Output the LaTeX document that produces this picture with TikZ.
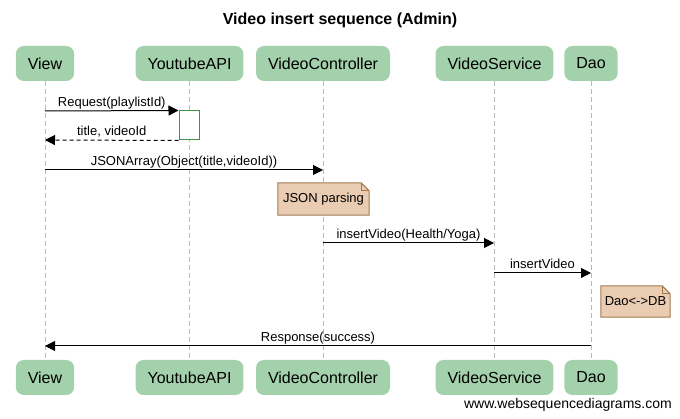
\documentclass[tikz,border=0pt]{standalone}
\usepackage{fontspec}
\setmainfont{Liberation Sans}
\usetikzlibrary{arrows.meta,backgrounds}
\definecolor{part}{RGB}{163,209,171}
\definecolor{notefill}{RGB}{233,204,177}
\definecolor{notedraw}{RGB}{160,122,80}
\definecolor{actdraw}{RGB}{60,150,70}
\definecolor{life}{RGB}{185,185,185}
\tikzset{
  participant/.style={fill=part, rounded corners=8pt, minimum height=35pt, inner xsep=12pt, inner ysep=0pt, font=\fontsize{16}{19}\selectfont, text=black},
  msg/.style={draw=black, line width=1pt, -{Triangle[length=10pt,width=10pt]}},
  reply/.style={msg, dash pattern=on 4pt off 3pt},
  lbl/.style={font=\fontsize{13}{15}\selectfont, anchor=south, inner sep=1pt, text height=10pt, text depth=3pt},
  lifeline/.style={draw=life, dash pattern=on 5pt off 3pt, line width=1pt},
  notebox/.style={font=\fontsize{13}{15}\selectfont, inner sep=0pt},
  notepath/.style={fill=notefill, draw=notedraw, line width=1pt},
  actbox/.style={draw=actdraw, fill=white, line width=1pt, minimum width=20pt, minimum height=29pt, inner sep=0pt}
}
\begin{document}
\begin{tikzpicture}[x=1pt,y=-1pt]
\useasboundingbox (0,0) rectangle (680,419);
% title
\node[font=\bfseries\fontsize{16}{19}\selectfont] (title) at (340,20) {Video insert sequence (Admin)};
% participants
\node[participant] (vt) at (45,63.5) {View};
\node[participant] (yt) at (189.5,63.5) {YoutubeAPI};
\node[participant] (ct) at (323,63.5) {VideoController};
\node[participant] (st) at (494.5,63.5) {VideoService};
\node[participant] (dt) at (591,63.5) {Dao};
\node[participant] (vb) at (45,377.5) {View};
\node[participant] (yb) at (189.5,377.5) {YoutubeAPI};
\node[participant] (cb) at (323,377.5) {VideoController};
\node[participant] (sb) at (494.5,377.5) {VideoService};
\node[participant] (db) at (591,377.5) {Dao};
% notes (text)
\node[notebox, minimum width=91pt, minimum height=32pt] (n1) at (323.5,199) {JSON parsing};
\node[notebox, minimum width=69pt, minimum height=31pt] (n2) at (635.5,301.5) {Dao<->DB};
\begin{scope}[on background layer]
  \draw[lifeline] (vt) -- (vb);
  \draw[lifeline] (yt) -- (yb);
  \draw[lifeline] (ct) -- (cb);
  \draw[lifeline] (st) -- (sb);
  \draw[lifeline] (dt) -- (db);
  \foreach \n in {n1,n2}{
    \draw[notepath] (\n.south west) -- (\n.north west) -- ([xshift=-8pt]\n.north east) -- ([yshift=-8pt]\n.north east) -- (\n.south east) -- cycle;
    \draw[notedraw, line width=1pt] ([xshift=-8pt]\n.north east) |- ([yshift=-8pt]\n.north east);
  }
\end{scope}
% activation
\node[actbox] (act) at (189,125.5) {};
% messages
\coordinate (m1s) at (45,111);
\coordinate (m2e) at (45,140);
\coordinate (m3s) at (45,170);
\coordinate (m3e) at (323,170);
\coordinate (m4s) at (323,243);
\coordinate (m4e) at (494,243);
\coordinate (m5s) at (494,273);
\coordinate (m5e) at (591,273);
\coordinate (m6s) at (591,346);
\coordinate (m6e) at (45,346);
\draw[msg] (m1s) -- (act.north west) node[midway,lbl] {Request(playlistId)};
\draw[reply] (act.south west) -- (m2e) node[midway,lbl] {title, videoId};
\draw[msg] (m3s) -- (m3e) node[midway,lbl] {JSONArray(Object(title,videoId))};
\draw[msg] (m4s) -- (m4e) node[midway,lbl] {insertVideo(Health/Yoga)};
\draw[msg] (m5s) -- (m5e) node[midway,lbl] {insertVideo};
\draw[msg] (m6s) -- (m6e) node[midway,lbl] {Response(success)};
% footer
\node[anchor=east, font=\fontsize{14}{17}\selectfont, inner sep=0pt] (foot) at (672,405) {www.websequencediagrams.com};
\end{tikzpicture}
\end{document}
